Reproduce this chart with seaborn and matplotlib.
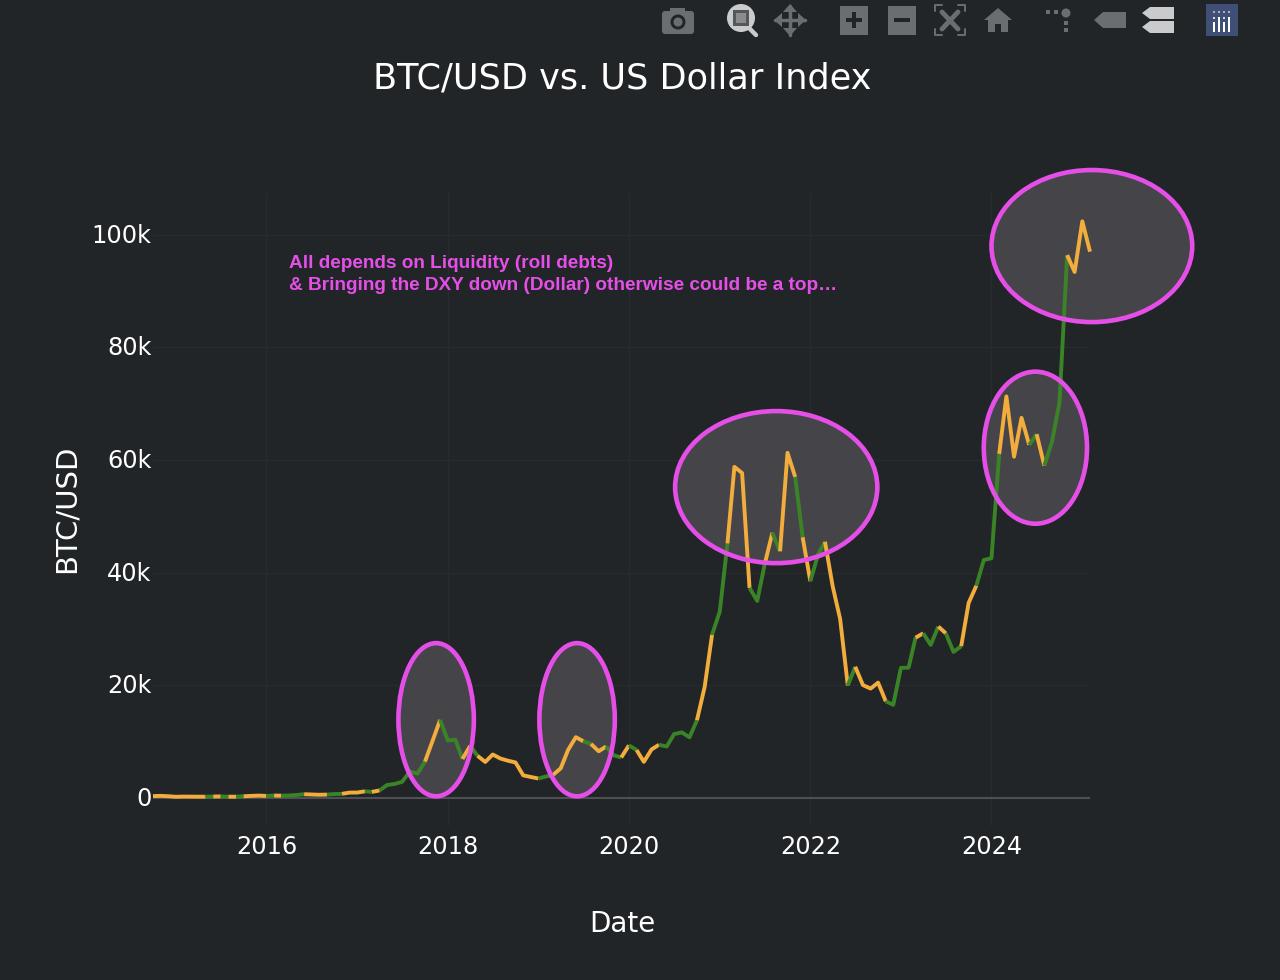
import numpy as np
import pandas as pd
import seaborn as sns
import matplotlib
matplotlib.use("Agg")
import matplotlib.pyplot as plt
import matplotlib.dates as mdates
from matplotlib.patches import Ellipse, Rectangle, Polygon, Circle, FancyBboxPatch
from matplotlib.ticker import FuncFormatter
from matplotlib.transforms import ScaledTranslation

# ---------- data ----------
dates = pd.date_range("2014-10-01", "2025-02-01", freq="MS")
btc = [338, 378, 320, 217, 254, 244, 236, 230, 263, 284, 230, 236, 314, 377, 430,
       369, 437, 416, 448, 531, 673, 624, 575, 608, 700, 742, 963,
       970, 1190, 1080, 1348, 2300, 2500, 2875, 4700, 4340, 6470, 10200, 13860,
       10220, 10330, 6930, 9240, 7490, 6400, 7730, 7010, 6620, 6310, 4020, 3740,
       3460, 3820, 4100, 5270, 8560, 10800, 10080, 9600, 8300, 9150, 7570, 7200,
       9350, 8520, 6420, 8620, 9450, 9140, 11350, 11650, 10780, 13800, 19700, 29000,
       33100, 45200, 58800, 57700, 37300, 35000, 41500, 47100, 43800, 61300, 57000, 46300,
       38500, 43200, 45500, 37600, 31800, 19980, 23300, 20050, 19430, 20490, 17170, 16550,
       23100, 23150, 28470, 29250, 27200, 30450, 29230, 25940, 26960, 34650, 37700, 42260,
       42580, 61100, 71300, 60600, 67500, 62700, 64600, 59000, 63300, 70200, 96400, 93400,
       102400, 97000]
# segment runs: (direction label, number of monthly segments)
run_labels = ["o", "g"] * 27 + ["o"]
run_lengths = [7, 1, 1, 1, 1, 1, 3, 1, 1, 3, 3, 2, 3, 1, 1, 6, 2, 3, 1, 1, 8, 2, 4, 1, 2, 2, 1, 1, 3, 5,
               2, 2, 3, 2, 1, 1, 2, 1, 1, 2, 3, 1, 4, 4, 1, 2, 1, 2, 2, 3, 4, 1, 1, 3, 3]
ellipse_x0 = ["2017-06-16", "2019-01-05", "2020-07-05", "2023-12-01", "2024-01-01"]
ellipse_x1 = ["2018-04-16", "2019-11-05", "2022-09-28", "2025-01-20", "2026-03-20"]
ellipse_y0 = [300, 300, 41700, 48700, 84500]
ellipse_y1 = [27500, 27500, 68700, 75700, 111500]
note_lines = ["All depends on Liquidity (roll debts)",
              "& Bringing the DXY down (Dollar) otherwise could be a top…"]
year_ticks = [2016, 2018, 2020, 2022, 2024]
value_ticks = [0, 20000, 40000, 60000, 80000, 100000]

BG = "#212528"
ORANGE = "#f2ad3d"
GREEN = "#3a8427"
MAGENTA = "#e54fe8"
W, H = 1280, 980

sns.set_theme(style="dark")
plt.rcParams["font.family"] = ["DejaVu Sans"]

fig = plt.figure(figsize=(W / 100, H / 100), dpi=100, facecolor=BG)
ax = fig.add_axes([153 / W, 1 - 826 / H, (1090 - 153) / W, (826 - 192) / H], facecolor=BG)

df = pd.DataFrame({"date": dates[:len(btc)], "btc": btc})
pos = 0
palette = {"o": ORANGE, "g": GREEN}
for label, n in zip(run_labels, run_lengths):
    part = df.iloc[pos:pos + n + 1]
    sns.lineplot(data=part, x="date", y="btc", color=palette[label], linewidth=2.8, ax=ax,
                 estimator=None, sort=False, solid_joinstyle="round", solid_capstyle="butt",
                 zorder=3, legend=False, clip_on=False)
    pos += n

ax.set_xlim(dates[0], dates[-1])
ax.set_ylim(-4970, 107600)
ax.set_xticks([pd.Timestamp(f"{y}-01-01") for y in year_ticks])
ax.xaxis.set_major_formatter(mdates.DateFormatter("%Y"))
ax.set_yticks(value_ticks)
ax.yaxis.set_major_formatter(FuncFormatter(lambda v, _: "0" if v == 0 else f"{int(v / 1000)}k"))
ax.grid(True, color="#272b2e", linewidth=1)
ax.axhline(0, color="#4e5154", linewidth=1.5, zorder=2)
ax.set_axisbelow(True)
for s in ax.spines.values():
    s.set_visible(False)
ax.tick_params(axis="both", length=0, colors="white", labelsize=17.3, pad=0)
ax.tick_params(axis="x", pad=6.5)
ax.tick_params(axis="y", pad=1)
shift = ScaledTranslation(0, 1.5 / 100, fig.dpi_scale_trans)
for t in ax.get_yticklabels():
    t.set_transform(t.get_transform() + shift)
ax.set_xlabel("")
ax.set_ylabel("")

for x0, x1, y0, y1 in zip(ellipse_x0, ellipse_x1, ellipse_y0, ellipse_y1):
    a, b = mdates.date2num(pd.Timestamp(x0)), mdates.date2num(pd.Timestamp(x1))
    ax.add_patch(Ellipse(((a + b) / 2, (y0 + y1) / 2), b - a, y1 - y0, facecolor="#454549",
                         edgecolor="none", clip_on=False, zorder=2.5))
    ax.add_patch(Ellipse(((a + b) / 2, (y0 + y1) / 2), b - a, y1 - y0, facecolor="none",
                         edgecolor=MAGENTA, linewidth=3.3, clip_on=False, zorder=4))

# ---------- page level text, in pixels ----------
ov = fig.add_axes([0, 0, 1, 1], facecolor="none")
ov.set_xlim(0, W)
ov.set_ylim(H, 0)
ov.axis("off")
ov.text(622, 78, "BTC/USD vs. US Dollar Index", color="white", fontsize=25.3, ha="center", va="center")
ov.text(622, 924, "Date", color="white", fontsize=20, ha="center", va="center")
ov.text(67, 508.5, "BTC/USD", color="white", fontsize=21, ha="center", va="center", rotation=90)
for txt, yy in zip(note_lines, [263, 285]):
    ov.text(289, yy, txt, color=MAGENTA, fontsize=13.7, fontweight="bold", family="Liberation Sans",
            ha="left", va="center")

# ---------- mode bar ----------
G = "#6b6e70"
L = "#c9cbcc"
def poly(pts, c=G):
    ov.add_patch(Polygon(pts, closed=True, facecolor=c, edgecolor="none"))
def rect(x, y, w, h, c=G):
    ov.add_patch(Rectangle((x, y), w, h, facecolor=c, edgecolor="none"))

# camera
ov.add_patch(FancyBboxPatch((662, 11), 32, 23, boxstyle="round,pad=0,rounding_size=3", fc=G, ec="none"))
rect(670, 8, 15, 4)
ov.add_patch(Circle((678, 22), 7.5, fc=BG, ec="none"))
ov.add_patch(Circle((678, 22), 4.5, fc=G, ec="none"))
# zoom (active)
ov.plot([749, 756], [28, 35], color=L, lw=3.2, solid_capstyle="round")
ov.add_patch(Circle((741, 18), 14, fc=L, ec="none"))
rect(733, 10, 16, 16, "#55585a")
rect(736, 13, 10, 10, "#8a8c8e")
# pan
ov.plot([775, 805], [20, 20], color=G, lw=2.5)
ov.plot([790, 790], [6, 35], color=G, lw=2.5)
poly([(774, 20), (782, 13), (782, 27)])
poly([(806, 20), (798, 13), (798, 27)])
poly([(790, 4), (783, 12), (797, 12)])
poly([(790, 36), (783, 28), (797, 28)])
# zoom in / zoom out
rect(840, 6, 28, 29)
rect(846, 18.5, 16, 4, BG)
rect(852, 12.5, 4, 16, BG)
rect(888, 6, 28, 29)
rect(894, 18.5, 16, 4, BG)
# autoscale
for (a, b, c, d) in [(935, 5, 1, 1), (965, 5, -1, 1), (935, 35, 1, -1), (965, 35, -1, -1)]:
    ov.plot([a + 7 * c, a, a], [b, b, b + 6 * d], color=G, lw=1.4)
ov.plot([942, 958], [12, 29], color=G, lw=3.5)
ov.plot([958, 942], [12, 29], color=G, lw=3.5)
# home
poly([(984, 20), (998, 8), (1012, 20), (1008, 20), (1008, 32), (1001, 32), (1001, 24),
      (995, 24), (995, 32), (988, 32), (988, 20)])
# spikes
ov.add_patch(Circle((1066, 13), 4.5, fc=G, ec="none"))
rect(1046, 10, 4, 4)
rect(1054, 10, 4, 4)
for yy in (21, 28):
    rect(1064, yy, 4, 4)
# hover tags
poly([(1094, 20), (1103, 12), (1126, 12), (1126, 28), (1103, 28)])
poly([(1142, 13), (1150, 7), (1174, 7), (1174, 19), (1150, 19)], L)
poly([(1142, 27), (1150, 21), (1174, 21), (1174, 33), (1150, 33)], L)
# plotly logo
rect(1206, 4, 32, 32, "#3f4f75")
for xx in (1213, 1218, 1223, 1228):
    ov.add_patch(Circle((xx + 1, 12), 1, fc="#c7cbd6", ec="none"))
for xx, top in zip((1213, 1218, 1223, 1228), (22, 17, 22, 17)):
    rect(xx, top, 2, 32 - top, "white")
ov.add_patch(Circle((1214, 18), 1, fc="white", ec="none"))
ov.add_patch(Circle((1224, 18), 1, fc="white", ec="none"))

fig.savefig("out.png", dpi=100, facecolor=BG)
